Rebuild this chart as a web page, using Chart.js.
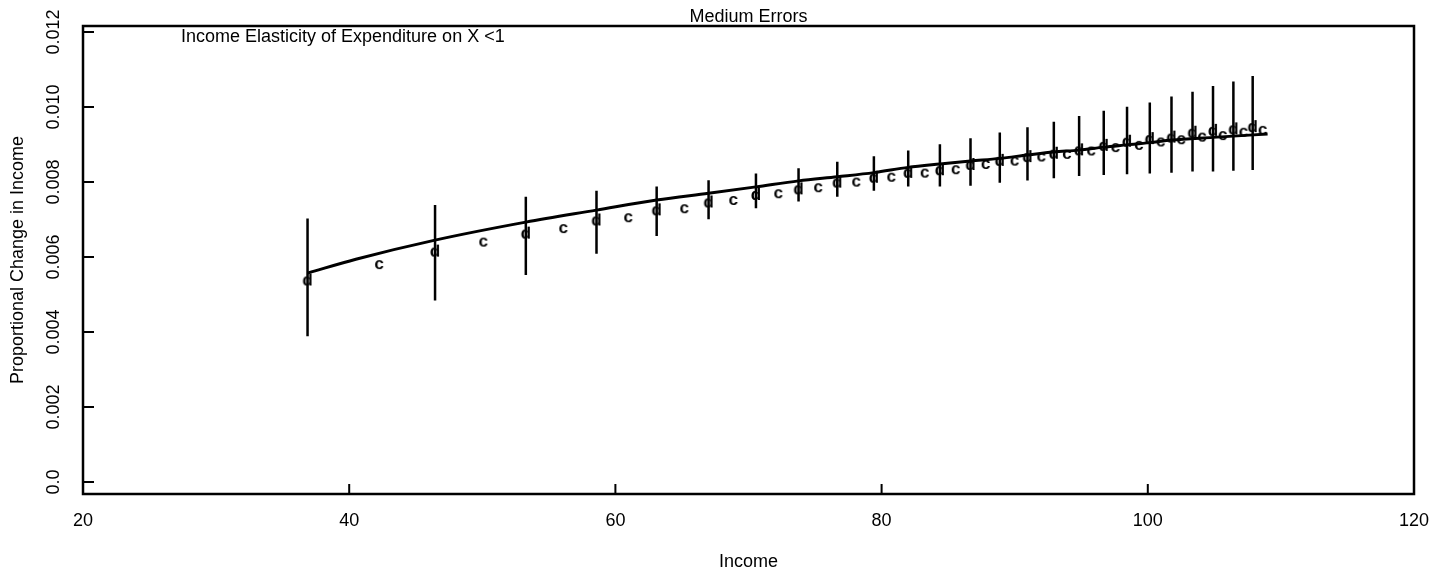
<!DOCTYPE html>
<html>
<head>
<meta charset="utf-8">
<script src="https://cdn.jsdelivr.net/npm/chart.js@4.4.1/dist/chart.umd.min.js"></script>
<style>
  html, body { margin: 0; padding: 0; background: #fff; }
  canvas { display: block; }
</style>
</head>
<body>
<canvas id="chart" width="1449" height="577"></canvas>
<script>
// Values
var xTickValues = [20, 40, 60, 80, 100, 120];
var xTickLabels = ['20', '40', '60', '80', '100', '120'];
var yTickValues = [0, 0.002, 0.004, 0.006, 0.008, 0.010, 0.012];
var yTickLabels = ['0.0', '0.002', '0.004', '0.006', '0.008', '0.010', '0.012'];

// fitted curve (solid line)
var curveX = [36.87, 40.5, 46.45, 53.27, 58.58, 63.10, 67.00, 70.56, 73.76, 76.67, 79.42, 82.00,
              84.38, 86.68, 88.88, 90.96, 92.94, 94.84, 96.69, 98.44, 100.15, 101.78, 104.90, 109.0];
var curveY = [0.00557, 0.00594, 0.00645, 0.00693, 0.00725, 0.00752, 0.00770, 0.00787, 0.00803, 0.00814, 0.00825, 0.00839,
              0.00848, 0.00856, 0.00863, 0.00872, 0.00880, 0.00885, 0.00893, 0.00899, 0.00905, 0.00912, 0.00919, 0.00928];

// "d" points with error bars
var dX  = [36.87, 46.45, 53.27, 58.58, 63.10, 67.00, 70.56, 73.76, 76.67, 79.42, 82.00, 84.38, 86.68,
           88.88, 90.96, 92.94, 94.84, 96.69, 98.44, 100.15, 101.78, 103.36, 104.90, 106.43, 107.88];
var dY  = [0.00540, 0.00617, 0.00665, 0.00700, 0.00727, 0.00748, 0.00768, 0.00783, 0.00801, 0.00814, 0.00827, 0.00834, 0.00848,
           0.00859, 0.00869, 0.00878, 0.00887, 0.00899, 0.00910, 0.00917, 0.00921, 0.00934, 0.00939, 0.00943, 0.00949];
var dHi = [0.00703, 0.00739, 0.00761, 0.00777, 0.00788, 0.00805, 0.00823, 0.00837, 0.00854, 0.00869, 0.00884, 0.00901, 0.00917,
           0.00932, 0.00946, 0.00961, 0.00976, 0.00990, 0.01001, 0.01012, 0.01028, 0.01041, 0.01056, 0.01068, 0.01083];
var dLo = [0.00389, 0.00484, 0.00552, 0.00609, 0.00656, 0.00701, 0.00730, 0.00748, 0.00761, 0.00777, 0.00788, 0.00788, 0.00790,
           0.00798, 0.00804, 0.00810, 0.00816, 0.00819, 0.00821, 0.00823, 0.00825, 0.00828, 0.00828, 0.00830, 0.00832];

// "c" points
var cX = [42.25, 50.08, 56.09, 60.97, 65.18, 68.86, 72.24, 75.24, 78.10, 80.73, 83.24, 85.57, 87.82,
          89.99, 92.00, 93.92, 95.75, 97.57, 99.33, 100.97, 102.51, 104.08, 105.63, 107.19, 108.63];
var cY = [0.00581, 0.00641, 0.00677, 0.00706, 0.00730, 0.00752, 0.00770, 0.00786, 0.00801, 0.00814, 0.00825, 0.00834, 0.00848,
          0.00857, 0.00868, 0.00875, 0.00884, 0.00893, 0.00899, 0.00908, 0.00914, 0.00921, 0.00925, 0.00934, 0.00939];

var FONT = '"Liberation Sans", Arial, Helvetica, sans-serif';
var subtitle = 'Income Elasticity of Expenditure on X <1';

function pairs(xs, ys) {
  return xs.map(function(x, i) { return { x: x, y: ys[i] }; });
}

// vertical bars, separated by gaps
function errorBars() {
  var out = [];
  dX.forEach(function(x, i) {
    out.push({ x: x, y: dLo[i] }, { x: x, y: dHi[i] }, { x: x, y: null });
  });
  return out;
}

// letter used as plotting symbol
function letter(ch) {
  var c = document.createElement('canvas');
  c.width = 18; c.height = 20;
  var g = c.getContext('2d');
  g.font = 'bold 17px ' + FONT;
  g.fillStyle = '#000';
  g.textAlign = 'center';
  g.textBaseline = 'alphabetic';
  var m = g.measureText(ch);
  var h = m.actualBoundingBoxAscent + m.actualBoundingBoxDescent;
  g.fillText(ch, 9, 10 + m.actualBoundingBoxAscent - h / 2);
  return c;
}

var framePlugin = {
  id: 'frame',
  afterDraw: function(chart) {
    var ctx = chart.ctx, a = chart.chartArea;
    var xs = chart.scales.x, ys = chart.scales.y;
    ctx.save();
    ctx.strokeStyle = '#000';
    ctx.lineWidth = 2.5;
    ctx.strokeRect(a.left, a.top, a.right - a.left, a.bottom - a.top);
    // inward tick marks
    ctx.lineWidth = 2;
    ctx.beginPath();
    ys.ticks.forEach(function(t) {
      var py = ys.getPixelForValue(t.value);
      ctx.moveTo(a.left, py);
      ctx.lineTo(a.left + 11, py);
    });
    xs.ticks.forEach(function(t) {
      var px = xs.getPixelForValue(t.value);
      ctx.moveTo(px, a.bottom);
      ctx.lineTo(px, a.bottom - 10);
    });
    ctx.stroke();
    ctx.fillStyle = '#000';
    ctx.font = '18px ' + FONT;
    ctx.textAlign = 'left';
    ctx.textBaseline = 'alphabetic';
    ctx.fillText(subtitle, a.left + 98, a.top + 16);
    ctx.restore();
  }
};

new Chart(document.getElementById('chart'), {
  type: 'scatter',
  data: {
    datasets: [
      {
        data: pairs(curveX, curveY),
        showLine: true,
        borderColor: '#000',
        borderWidth: 3,
        pointRadius: 0,
        cubicInterpolationMode: 'monotone'
      },
      {
        data: errorBars(),
        showLine: true,
        spanGaps: false,
        borderColor: '#000',
        borderWidth: 2.5,
        pointRadius: 0
      },
      {
        data: pairs(dX, dY),
        showLine: false,
        pointStyle: letter('d'),
        pointRadius: 5
      },
      {
        data: pairs(cX, cY),
        showLine: false,
        pointStyle: letter('c'),
        pointRadius: 5
      }
    ]
  },
  options: {
    responsive: false,
    animation: false,
    layout: { padding: { left: 0, right: 35, top: 0, bottom: 0 } },
    plugins: {
      legend: { display: false },
      tooltip: { enabled: false },
      title: {
        display: true,
        text: 'Medium Errors',
        fullSize: false,
        color: '#000',
        font: { family: FONT, size: 18, weight: 'normal', lineHeight: 1 },
        padding: { top: 8, bottom: 0 }
      }
    },
    scales: {
      x: {
        type: 'linear',
        min: 20,
        max: 120,
        afterBuildTicks: function(s) { s.ticks = xTickValues.map(function(v) { return { value: v }; }); },
        afterFit: function(s) { s.height = 83; },
        grid: { display: false, drawTicks: false },
        border: { display: false },
        ticks: {
          color: '#000',
          font: { family: FONT, size: 18 },
          padding: 16,
          maxRotation: 0,
          autoSkip: false,
          callback: function(v, i) { return xTickLabels[i]; }
        },
        title: {
          display: true,
          text: 'Income',
          color: '#000',
          font: { family: FONT, size: 18 },
          padding: { top: 0, bottom: 4 }
        }
      },
      y: {
        type: 'linear',
        min: -0.00032,
        max: 0.01216,
        afterBuildTicks: function(s) { s.ticks = yTickValues.map(function(v) { return { value: v }; }); },
        afterFit: function(s) { s.width = 83; },
        grid: { display: false, drawTicks: false },
        border: { display: false },
        ticks: {
          color: '#000',
          font: { family: FONT, size: 18 },
          minRotation: 90,
          maxRotation: 90,
          crossAlign: 'center',
          padding: 6,
          autoSkip: false,
          callback: function(v, i) { return yTickLabels[i]; }
        },
        title: {
          display: true,
          text: 'Proportional Change in Income',
          color: '#000',
          font: { family: FONT, size: 18 },
          padding: { top: 7, bottom: 0 }
        }
      }
    }
  },
  plugins: [framePlugin]
});
</script>
</body>
</html>
